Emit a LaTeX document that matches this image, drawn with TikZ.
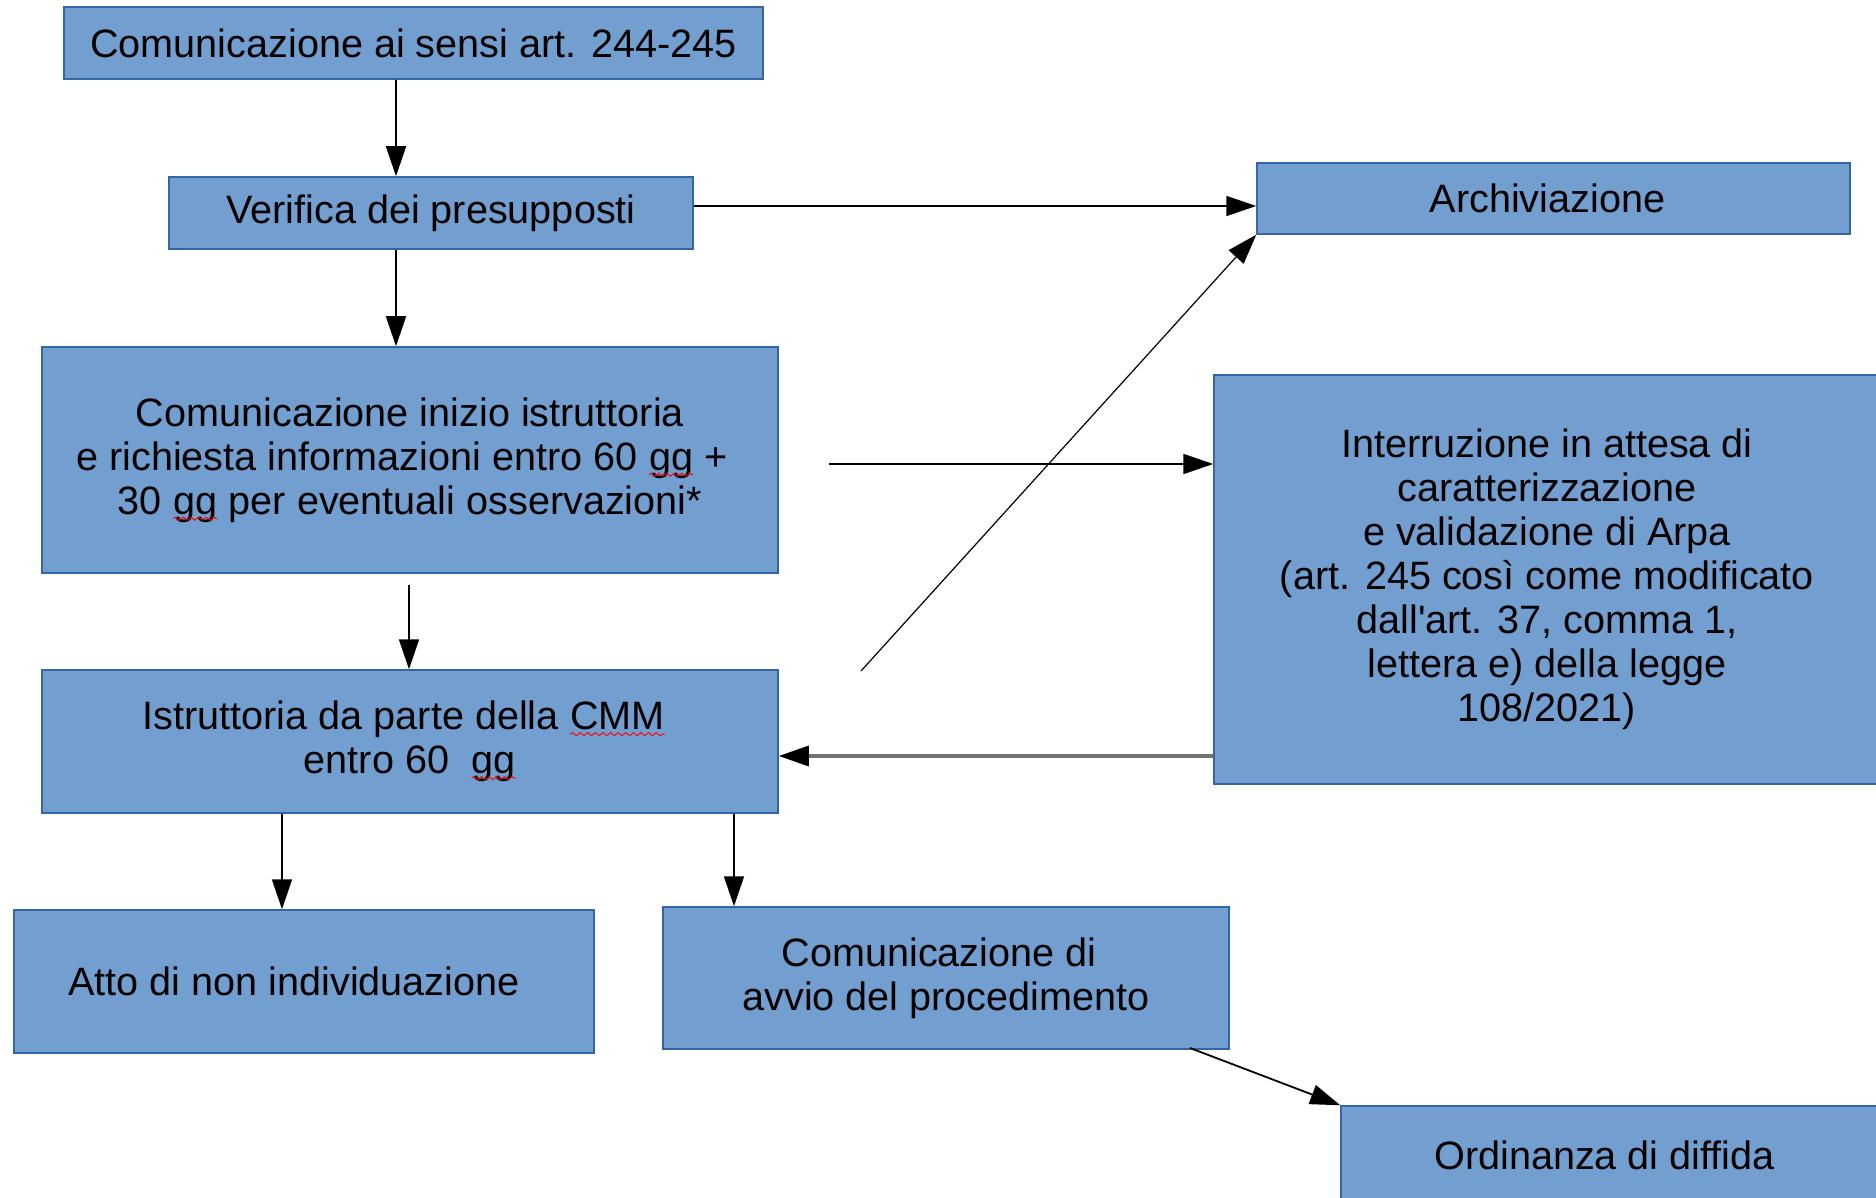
\documentclass[tikz,border=0pt]{standalone}
\usepackage{fontspec}
\newfontfamily\arialf{Liberation Sans}
\usetikzlibrary{arrows.meta,decorations.pathmorphing}
\definecolor{fillc}{HTML}{729FCF}
\definecolor{bordc}{HTML}{3465A4}
\newcommand\mainfnt{\arialf\fontsize{19.8}{22}\selectfont}
\newcommand\trail[1]{\hbox to #1{}}
\newcommand\spellerr[1]{\tikz[baseline=(sw.base)]{\node[inner sep=0pt,outer sep=0pt,minimum width=0pt,minimum height=0pt,draw=none,fill=none](sw){#1};\draw[red,line width=0.45pt,decorate,decoration={snake,amplitude=0.8pt,segment length=3.8pt}]([yshift=-2.2pt]sw.base west)--([yshift=-2.2pt]sw.base east);}}
\begin{document}
\begin{tikzpicture}[x=0.5pt,y=-0.5pt,
  box/.style={draw=bordc,fill=fillc,line width=0.75pt,inner sep=0pt,align=center,font=\mainfnt},
  arr/.style={-{Triangle[length=15pt,width=10pt,color=black]},line width=0.9pt,draw=black},
  greyline/.style={line width=1.6pt,draw=black!55}]
\useasboundingbox (0,0) rectangle (1876,1198);
\fill[white] (0,0) rectangle (1876,1198);

\node[box,minimum width=349.5pt,minimum height=36pt] (b1) at (413.5,43) {Comunicazione ai sensi art. 244-245};
\node[box,minimum width=262pt,minimum height=36pt] (b2) at (431,213) {Verifica dei presupposti};
\node[box,minimum width=368pt,minimum height=113pt] (b3) at (410,460) {Comunicazione inizio istruttoria\\e richiesta informazioni entro 60 \spellerr{gg} +\trail{8pt}\\30 \spellerr{gg} per eventuali osservazioni*};
\node[box,minimum width=296.5pt,minimum height=35.5pt] (arch) at (1553.5,198.5) {Archiviazione\trail{6pt}};
\node[box,minimum width=333pt,minimum height=204.5pt] (intr) at (1547,579.5) {Interruzione in attesa di\\caratterizzazione\\e validazione di Arpa\\(art. 245 così come modificato\\dall'art. 37, comma 1,\\lettera e) della legge\\108/2021)};
\node[box,minimum width=368pt,minimum height=71.5pt] (istr) at (410,741.5) {Istruttoria da parte della \spellerr{CMM}\trail{6pt}\\entro 60\ \ \spellerr{gg}};
\node[box,minimum width=290pt,minimum height=71.5pt] (atto) at (304,981.5) {Atto di non individuazione\trail{10pt}};
\node[box,minimum width=283pt,minimum height=71pt] (avvio) at (946,978) {Comunicazione di\trail{7pt}\\avvio del procedimento};
\node[box,minimum width=269.5pt,minimum height=49pt] (ord) at (1610.5,1155) {Ordinanza di diffida\trail{6pt}};

\coordinate (cA) at (396,0);
\draw[arr] (b1.south -| cA) -- (b2.north -| cA);
\draw[arr] (b2.south -| cA) -- (b3.north -| cA);
\coordinate (cB) at (0,206);
\draw[arr] (b2.east |- cB) -- (arch.west |- cB);
\coordinate (s4) at (829,464);
\draw[arr] (s4) -- (intr.west |- s4);
\coordinate (s5) at (861,671);
\draw[arr,line width=0.6pt] (s5) -- (arch.south west);
\coordinate (s6) at (409,585);
\draw[arr] (s6) -- (istr.north -| s6);
\coordinate (cC) at (0,756);
\draw[arr,greyline] (intr.west |- cC) -- (istr.east |- cC);
\coordinate (cD) at (282,0);
\draw[arr] (istr.south -| cD) -- (atto.north -| cD);
\coordinate (cE) at (734,0);
\draw[arr] (istr.south -| cE) -- (avvio.north -| cE);
\coordinate (s10) at (1190,1048);
\draw[arr] (s10) -- (ord.north west);
\end{tikzpicture}
\end{document}
